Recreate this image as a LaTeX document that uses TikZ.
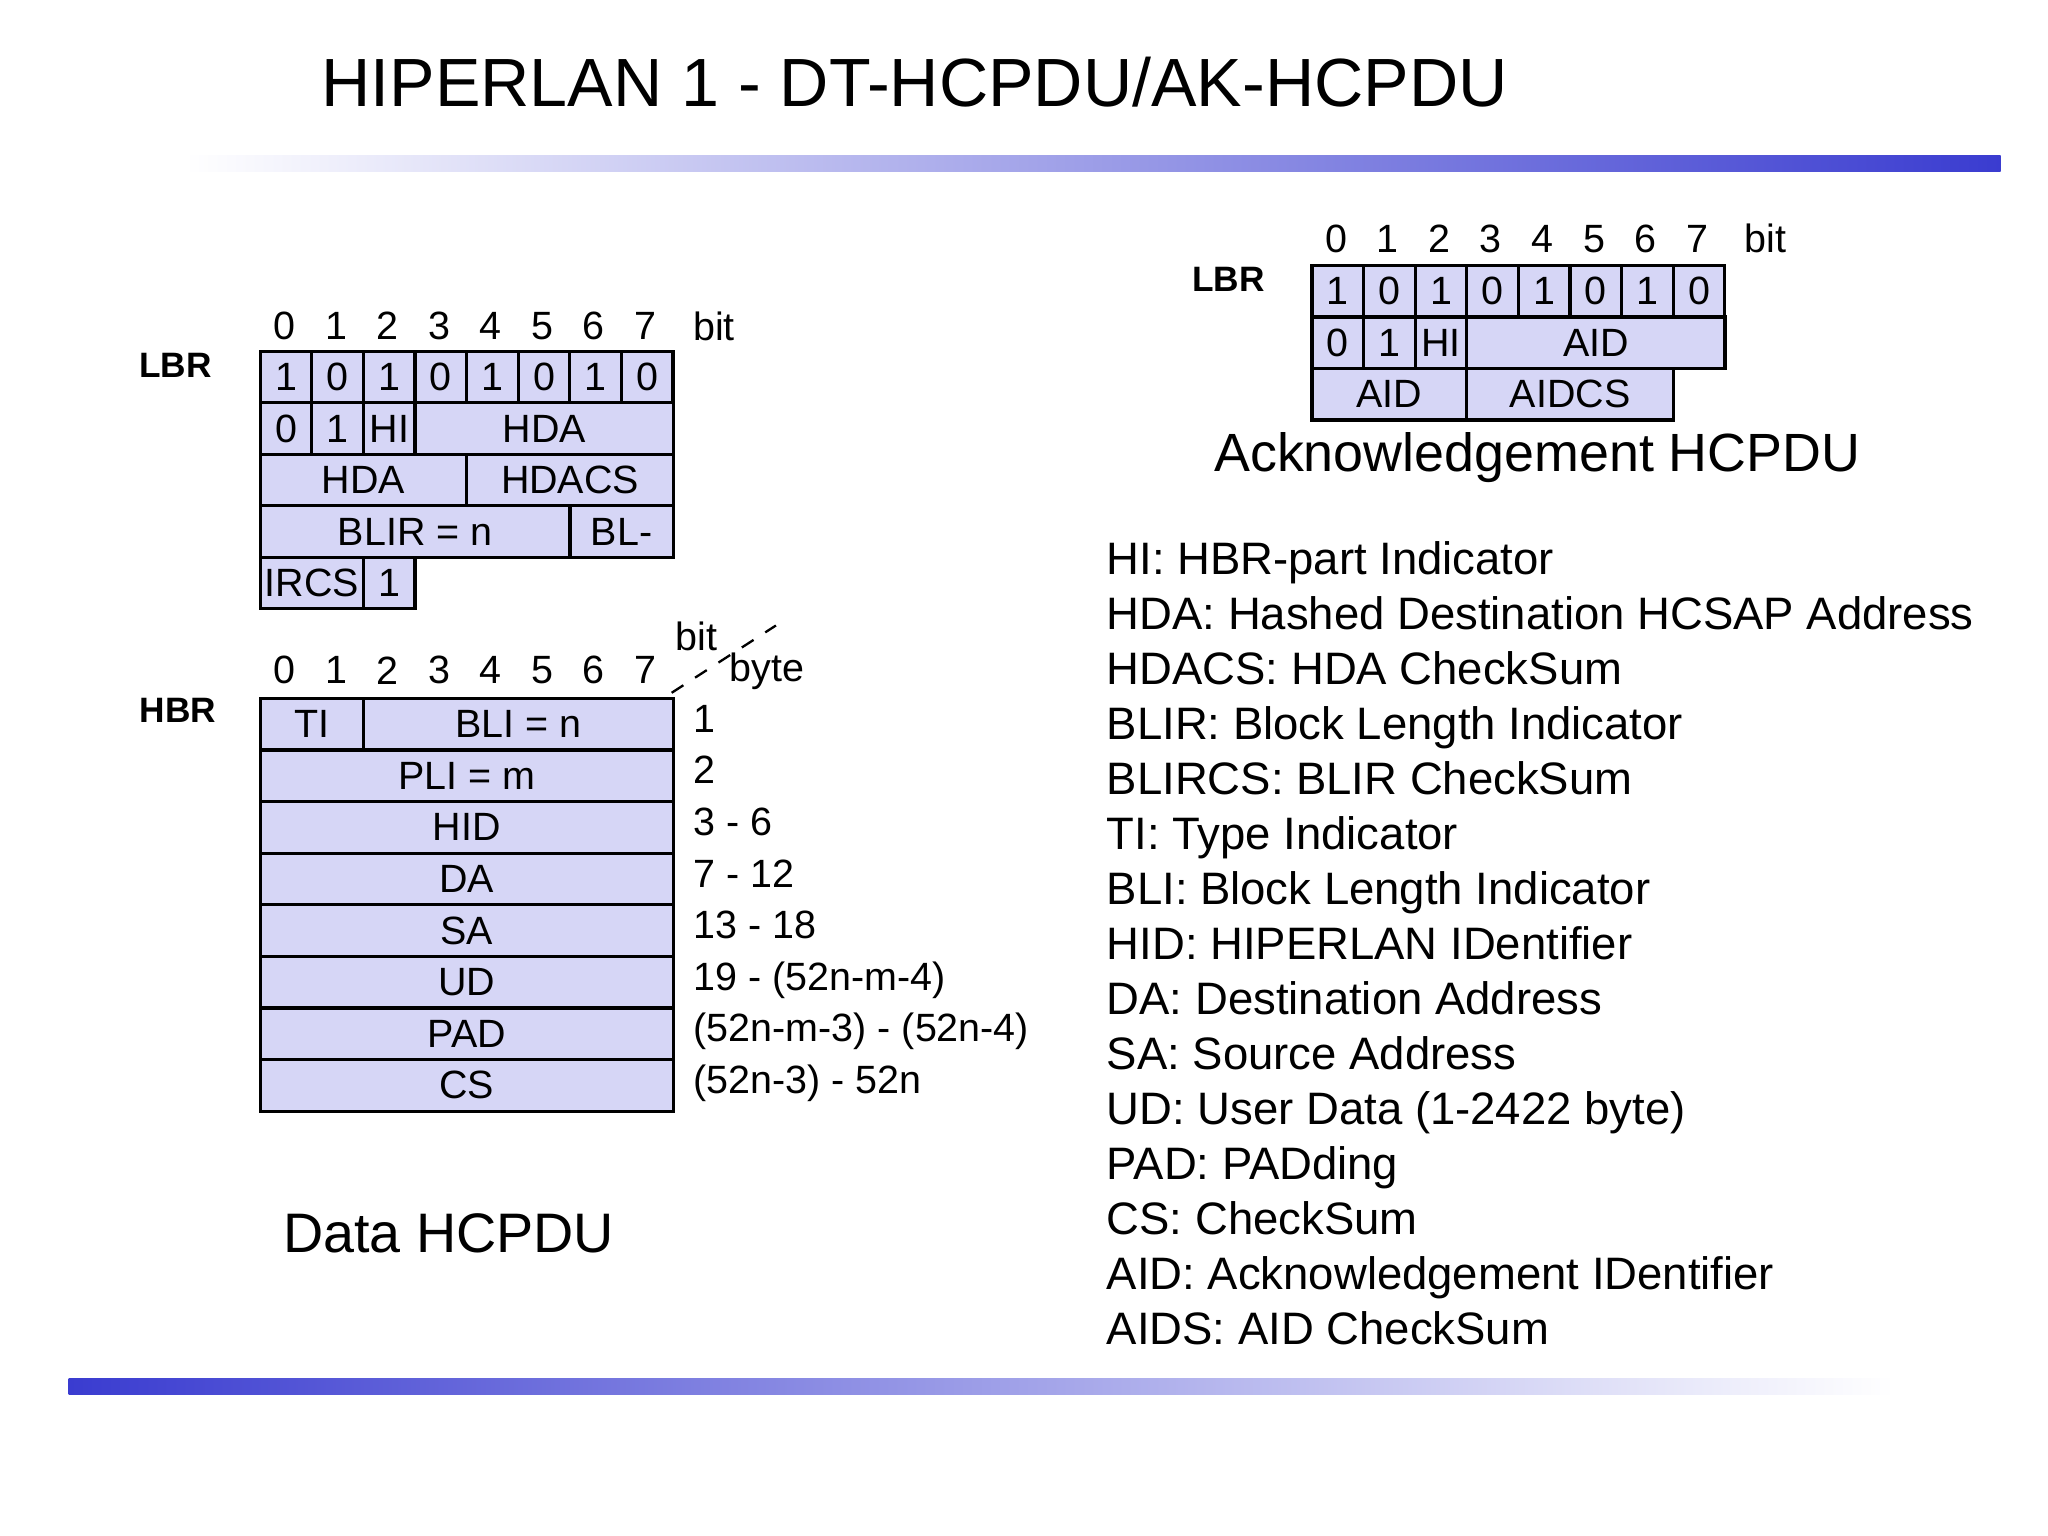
\documentclass[tikz,border=0pt]{standalone}
\usepackage{fontspec}
\setmainfont{Liberation Sans}
\begin{document}
\begin{tikzpicture}[x=0.01cm,y=-0.01cm,
  cell/.style={draw=black,fill=cellc,line width=0.7pt,inner sep=0pt,font=\fontsize{8.5}{10}\selectfont},
  num/.style={inner sep=0pt,font=\fontsize{8.5}{10}\selectfont},
  lbl/.style={inner sep=0pt,font=\fontsize{7.6}{9}\selectfont\bfseries},
  leg/.style={inner sep=0pt,anchor=base west,font=\fontsize{9.8}{12}\selectfont}]
\definecolor{cellc}{RGB}{214,214,246}
\definecolor{barc}{RGB}{58,60,208}
\useasboundingbox (0,0) rectangle (1552,1164);
\node[inner sep=0pt,font=\fontsize{14.7}{18}\selectfont] (title) at (693,62) {HIPERLAN 1 - DT-HCPDU/AK-HCPDU};
\shade[left color=white,right color=barc] (140,118) rectangle (1516,130);
\shade[left color=barc,right color=white] (52,1045) rectangle (1435,1057);
\newcommand{\cel}[6]{\node[cell,minimum width={((#3)-(#1))*0.01cm},minimum height={((#4)-(#2))*0.01cm},anchor=north west] (#6) at (#1,#2) {#5};}
% left LBR
\node[lbl] (lbr1) at (133,277) {LBR};
\foreach \i in {0,...,7} \node[num] (lb\i) at (215.5+39.1*\i,247) {\i};
\node[num] (lbit) at (541,247) {bit};
\foreach \i/\v in {0/1,1/0,2/1,3/0,4/1,5/0,6/1,7/0} {\cel{196+39.1*\i}{265}{235.1+39.1*\i}{304}{\v}{la\i}}
\cel{196}{304}{235.1}{343}{0}{lr0}
\cel{235.1}{304}{274.2}{343}{1}{lr1}
\cel{274.2}{304}{313.3}{343}{HI}{lr2}
\cel{313.3}{304}{509}{343}{HDA}{lr3}
\cel{196}{343}{352.5}{382}{HDA}{lh1}
\cel{352.5}{343}{509}{382}{HDACS}{lh2}
\cel{196}{382}{430.7}{421}{BLIR = n}{lb1x}
\cel{430.7}{382}{509}{421}{BL-}{lb2x}
\cel{196}{421}{274.2}{460}{IRCS}{li1}
\cel{274.2}{421}{313.3}{460}{1}{li2}
% HBR
\node[lbl] (hbr) at (135,538) {HBR};
\foreach \i in {0,...,7} \node[num] (hb\i) at (215.5+39.1*\i,508) {\i};
\node[num] (hbit) at (528,482) {bit};
\node[num] (hbyte) at (581,509) {byte};
\coordinate (d1) at (509,525); \coordinate (d2) at (588,474);
\draw[dashed,line width=0.5pt] (d1) -- (d2);
\cel{196}{528}{274.2}{567}{TI}{h0}
\cel{274.2}{528}{509}{567}{BLI = n}{h1}
\foreach \t [count=\k] in {PLI = m,HID,DA,SA,UD,PAD,CS} {\cel{196}{528+39.1*\k}{509}{567.1+39.1*\k}{\t}{hr\k}}
\foreach \t [count=\k from 0] in {1,2,3 - 6,7 - 12,13 - 18,19 - (52n-m-4),(52n-m-3) - (52n-4),(52n-3) - 52n}
  {\node[num,anchor=base west] (by\k) at (525,555+39.1*\k) {\t};}
\node[inner sep=0pt,font=\fontsize{12}{14}\selectfont] (dh) at (340,935) {Data HCPDU};
% right LBR
\node[lbl] (lbr2) at (931,212) {LBR};
\foreach \i in {0,...,7} \node[num] (rb\i) at (1012.5+39.1*\i,181) {\i};
\node[num] (rbit) at (1338,181) {bit};
\foreach \i/\v in {0/1,1/0,2/1,3/0,4/1,5/0,6/1,7/0} {\cel{993+39.1*\i}{200}{1032.1+39.1*\i}{239}{\v}{ra\i}}
\cel{993}{239}{1032.1}{278}{0}{rr0}
\cel{1032.1}{239}{1071.2}{278}{1}{rr1}
\cel{1071.2}{239}{1110.3}{278}{HI}{rr2}
\cel{1110.3}{239}{1306}{278}{AID}{rr3}
\cel{993}{278}{1110.3}{317}{AID}{rs1}
\cel{1110.3}{278}{1266.9}{317}{AIDCS}{rs2}
\node[inner sep=0pt,font=\fontsize{11.6}{14}\selectfont] (ah) at (1165,347) {Acknowledgement HCPDU};
% legend
\foreach \t [count=\k from 0] in {HI: HBR-part Indicator,HDA: Hashed Destination HCSAP Address,HDACS: HDA CheckSum,BLIR: Block Length Indicator,BLIRCS: BLIR CheckSum,TI: Type Indicator,BLI: Block Length Indicator,HID: HIPERLAN IDentifier,DA: Destination Address,SA: Source Address,UD: User Data (1-2422 byte),PAD: PADding,CS: CheckSum,AID: Acknowledgement IDentifier,AIDS: AID CheckSum}
  {\node[leg] (lg\k) at (838,435+41.7*\k) {\t};}
\end{tikzpicture}
\end{document}
